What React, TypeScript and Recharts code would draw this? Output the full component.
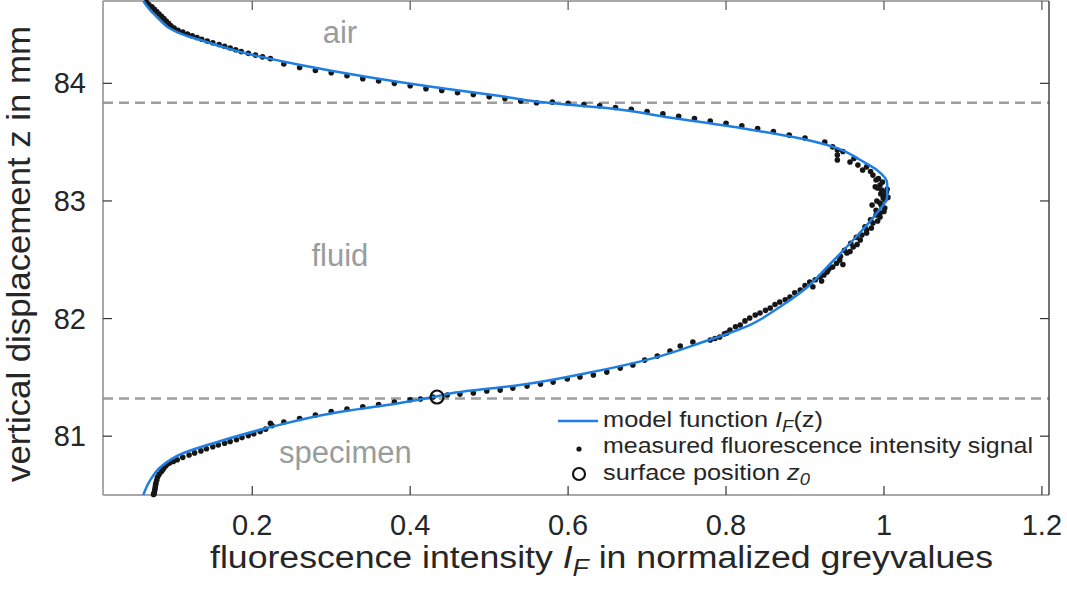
import {
  ScatterChart,
  Scatter,
  XAxis,
  YAxis,
  ReferenceLine,
  ReferenceDot,
  Legend,
} from "recharts";

const FONT = "'Liberation Sans', Arial, Helvetica, sans-serif";
const BLUE = "#1e7fe3";
const GREY = "#9b9f9f";
const TEXT = "#262626";

const xTicks = [0.2, 0.4, 0.6, 0.8, 1, 1.2];
const zTicks = [81, 82, 83, 84];

// [intensity, z] of the fitted model function, top to bottom
const modelCurve: [number, number][] = [
  [0.062, 84.7], [0.0705, 84.624], [0.0793, 84.564], [0.0869, 84.513], [0.0958, 84.466],
  [0.1085, 84.424], [0.121, 84.394], [0.134, 84.368], [0.185, 84.266], [0.261, 84.156],
  [0.346, 84.054], [0.429, 83.969], [0.514, 83.892], [0.565, 83.841], [0.649, 83.79],
  [0.733, 83.705], [0.818, 83.62], [0.903, 83.518], [0.944, 83.441],
  [0.97, 83.348], [0.991, 83.263], [1.004, 83.152], [1.004, 83.033],
  [0.991, 82.897], [0.961, 82.668], [0.928, 82.438], [0.903, 82.268],
  [0.868, 82.098], [0.83, 81.945], [0.767, 81.792], [0.708, 81.664],
  [0.624, 81.537], [0.539, 81.435], [0.454, 81.367], [0.429, 81.333],
  [0.387, 81.282], [0.303, 81.197], [0.219, 81.07], [0.156, 80.951],
  [0.113, 80.857], [0.084, 80.738], [0.071, 80.628], [0.062, 80.5],
];

// [intensity, z] of the measured signal
const measured: [number, number][] = [
  [0.066, 84.69], [0.073, 84.65], [0.079, 84.61], [0.085, 84.57], [0.091, 84.53],
  [0.097, 84.49], [0.106, 84.45], [0.118, 84.42], [0.13, 84.39], [0.143, 84.36],
  [0.158, 84.33], [0.172, 84.3], [0.186, 84.27], [0.204, 84.24], [0.223, 84.21],
  [0.069, 84.67], [0.076, 84.63], [0.082, 84.59], [0.088, 84.55], [0.094, 84.51],
  [0.101, 84.47], [0.112, 84.435], [0.124, 84.405], [0.136, 84.375], [0.15, 84.345],
  [0.165, 84.315], [0.179, 84.285], [0.195, 84.255], [0.213, 84.225],
  [0.24, 84.165], [0.26, 84.135], [0.28, 84.11], [0.3, 84.09], [0.32, 84.065],
  [0.34, 84.04], [0.36, 84.02], [0.38, 84.0], [0.4, 83.98], [0.42, 83.955],
  [0.44, 83.94], [0.46, 83.92], [0.48, 83.905], [0.5, 83.885], [0.52, 83.87],
  [0.54, 83.85], [0.56, 83.835], [0.58, 83.84], [0.6, 83.83], [0.62, 83.82],
  [0.64, 83.81], [0.66, 83.795], [0.68, 83.78], [0.7, 83.76], [0.72, 83.74],
  [0.74, 83.72], [0.76, 83.7], [0.78, 83.68], [0.8, 83.66], [0.82, 83.64],
  [0.84, 83.615], [0.86, 83.59], [0.88, 83.56], [0.9, 83.535], [0.925, 83.5],
  [0.935, 83.46], [0.948, 83.42], [0.962, 83.36], [0.978, 83.29], [0.983, 83.25],
  [0.941, 83.433], [0.941, 83.39], [0.941, 83.348], [0.957, 83.331], [0.967, 83.305],
  [0.973, 83.263], [0.986, 83.22], [0.99, 83.178], [0.995, 83.135], [0.992, 83.11],
  [0.993, 83.19], [0.998, 83.16], [0.989, 83.12], [1.004, 83.1], [0.996, 83.06],
  [0.997, 83.093], [1.003, 83.076], [1.0, 83.05], [0.999, 83.025], [1.001, 83.008],
  [1.005, 83.03], [0.991, 83.0], [0.997, 82.96], [0.99, 82.92], [1.0, 82.91],
  [0.995, 82.982], [0.985, 82.965], [1.001, 82.94], [0.995, 82.897], [0.995, 82.863],
  [0.99, 82.88], [0.983, 82.84], [0.992, 82.83], [0.976, 82.78], [0.984, 82.77],
  [0.986, 82.812], [0.978, 82.753], [0.978, 82.727], [0.97, 82.668], [0.961, 82.608],
  [0.972, 82.71], [0.965, 82.69], [0.958, 82.64], [0.966, 82.63], [0.95, 82.58],
  [0.957, 82.57], [0.945, 82.53], [0.94, 82.47], [0.948, 82.46], [0.93, 82.42],
  [0.953, 82.557], [0.944, 82.498], [0.935, 82.438], [0.928, 82.396], [0.919, 82.353],
  [0.924, 82.37], [0.913, 82.33], [0.921, 82.32], [0.9, 82.28], [0.91, 82.27],
  [0.906, 82.311], [0.894, 82.243], [0.881, 82.183], [0.868, 82.141], [0.856, 82.09],
  [0.887, 82.22], [0.875, 82.16], [0.862, 82.12], [0.85, 82.07], [0.837, 82.03],
  [0.843, 82.047], [0.83, 82.005], [0.818, 81.945], [0.805, 81.903], [0.801, 81.877],
  [0.824, 81.98], [0.812, 81.93], [0.798, 81.87], [0.786, 81.83],
  [0.792, 81.843], [0.78, 81.818], [0.758, 81.8], [0.742, 81.766], [0.729, 81.724],
  [0.713, 81.681], [0.697, 81.647], [0.682, 81.605], [0.666, 81.579], [0.649, 81.545],
  [0.632, 81.52], [0.615, 81.503], [0.599, 81.486], [0.581, 81.46], [0.565, 81.443],
  [0.548, 81.426], [0.53, 81.409], [0.514, 81.392], [0.497, 81.384], [0.48, 81.367],
  [0.463, 81.358], [0.447, 81.35], [0.429, 81.333], [0.413, 81.316], [0.4, 81.31],
  [0.38, 81.29], [0.36, 81.27], [0.34, 81.25], [0.32, 81.23], [0.3, 81.21],
  [0.28, 81.18], [0.26, 81.15], [0.24, 81.12], [0.223, 81.11], [0.225, 81.09],
  [0.21, 81.04], [0.195, 81.005], [0.18, 80.97], [0.165, 80.94], [0.15, 80.91],
  [0.135, 80.875], [0.12, 80.84], [0.105, 80.8], [0.095, 80.77], [0.088, 80.73],
  [0.085, 80.7], [0.08, 80.65], [0.078, 80.6], [0.077, 80.56], [0.076, 80.52],
  [0.075, 80.505], [0.0755, 80.51], [0.0765, 80.54], [0.0775, 80.58], [0.079, 80.625],
  [0.082, 80.675], [0.0865, 80.715], [0.091, 80.75], [0.1, 80.785], [0.112, 80.82],
  [0.127, 80.858], [0.142, 80.893], [0.157, 80.925], [0.172, 80.955], [0.187, 80.988],
  [0.202, 81.02], [0.217, 81.06],
];

const surfacePosition: [number, number][] = [[0.434, 81.333]];
const boundaryZ = [83.835, 81.32];
const regionNames = ["air", "fluid", "specimen"];
const regionI = [0.311, 0.311, 0.318];
const regionZ = [84.436, 82.54, 80.865];

const toRows = (pts: [number, number][]) => pts.map(([i, z]) => ({ i, z }));

function BottomTick({ x, y, payload }: any) {
  return (
    <g>
      <line x1={x} y1={y} x2={x} y2={y - 9} stroke="#333" strokeWidth={1.2} />
      <text x={x} y={y + 40} textAnchor="middle" fontSize={29} fill={TEXT} fontFamily={FONT}>
        {payload.value}
      </text>
    </g>
  );
}

function LeftTick({ x, y, payload }: any) {
  return (
    <g>
      <line x1={x} y1={y} x2={x + 9} y2={y} stroke="#333" strokeWidth={1.2} />
      <text x={x - 17} y={y + 10} textAnchor="end" fontSize={29} fill={TEXT} fontFamily={FONT}>
        {payload.value}
      </text>
    </g>
  );
}

// mirrored axes: the tick anchor sits on the axis line when tickSize/tickMargin are 0
function TopTick({ x, y }: any) {
  return <line x1={x} y1={y} x2={x} y2={y + 9} stroke="#555" strokeWidth={1.2} />;
}

function RightTick({ x, y }: any) {
  return <line x1={x} y1={y} x2={x - 9} y2={y} stroke="#333" strokeWidth={1.2} />;
}

function XTitle() {
  return (
    <text x={210} y={568} fontSize={31} fill={TEXT} fontFamily={FONT} textLength={783} lengthAdjust="spacingAndGlyphs">
      fluorescence intensity <tspan fontStyle="italic">I</tspan>
      <tspan fontStyle="italic" fontSize={23} dy={8}>F</tspan>
      <tspan dy={-8}> in normalized greyvalues</tspan>
    </text>
  );
}

function YTitle() {
  return (
    <text
      x={30}
      y={254}
      transform="rotate(-90, 30, 254)"
      textAnchor="middle"
      fontSize={33}
      fill={TEXT}
      fontFamily={FONT}
      textLength={456}
      lengthAdjust="spacingAndGlyphs"
    >
      vertical displacement z in mm
    </text>
  );
}

function LegendBox() {
  const t = { fontSize: 22, fill: TEXT, fontFamily: FONT, lengthAdjust: "spacingAndGlyphs" as const };
  return (
    <svg width={500} height={95} style={{ overflow: "visible" }}>
      <line x1={8} y1={17} x2={48} y2={17} stroke={BLUE} strokeWidth={2.5} />
      <text x={53} y={23} {...t} textLength={220}>
        model function <tspan fontStyle="italic">I</tspan>
        <tspan fontStyle="italic" fontSize={16} dy={5}>F</tspan>
        <tspan dy={-5}>(z)</tspan>
      </text>
      <circle cx={29} cy={45} r={2.6} fill="#161616" />
      <text x={53} y={49} {...t} textLength={430}>
        measured fluorescence intensity signal
      </text>
      <circle cx={29} cy={70} r={6} fill="none" stroke="#111" strokeWidth={2.2} />
      <text x={53} y={76} {...t} textLength={207}>
        surface position <tspan fontStyle="italic">z</tspan>
        <tspan fontStyle="italic" fontSize={16} dy={5}>0</tspan>
      </text>
    </svg>
  );
}

export default function App() {
  return (
    <div style={{ position: "absolute", left: 0, top: 0, width: 1067, height: 604, background: "#fff" }}>
      <ScatterChart width={1067} height={604} margin={{ top: 1, right: 18, bottom: 49, left: 23 }}>
        <XAxis
          dataKey="i"
          type="number"
          domain={[0.011, 1.209]}
          ticks={xTicks}
          height={60}
          tickSize={0}
          tickMargin={0}
          tickLine={false}
          axisLine={{ stroke: "#8c8c8c", strokeWidth: 1.5 }}
          tick={BottomTick}
          interval={0}
          label={XTitle}
        />
        <XAxis
          xAxisId="top"
          dataKey="i"
          orientation="top"
          mirror
          type="number"
          domain={[0.011, 1.209]}
          ticks={xTicks}
          tickSize={0}
          tickMargin={0}
          tickLine={false}
          axisLine={{ stroke: "#8c8c8c", strokeWidth: 1.5 }}
          tick={TopTick}
          interval={0}
        />
        <YAxis
          dataKey="z"
          type="number"
          domain={[80.5, 84.7]}
          ticks={zTicks}
          width={80}
          tickSize={0}
          tickMargin={0}
          tickLine={false}
          axisLine={{ stroke: "#8c8c8c", strokeWidth: 1.5 }}
          tick={LeftTick}
          interval={0}
          label={YTitle}
        />
        <YAxis
          yAxisId="right"
          dataKey="z"
          orientation="right"
          mirror
          type="number"
          domain={[80.5, 84.7]}
          ticks={zTicks}
          tickSize={0}
          tickMargin={0}
          tickLine={false}
          axisLine={{ stroke: "#444", strokeWidth: 1.5 }}
          tick={RightTick}
          interval={0}
        />
        {boundaryZ.map((z) => (
          <ReferenceLine key={z} y={z} stroke={GREY} strokeWidth={2.5} strokeDasharray="10 6" />
        ))}
        <Scatter
          name="measured fluorescence intensity signal"
          data={toRows(measured)}
          isAnimationActive={false}
          shape={(p: any) => <circle cx={p.cx} cy={p.cy} r={2.8} fill="#161616" />}
        />
        <Scatter
          name="model function"
          data={toRows(modelCurve)}
          isAnimationActive={false}
          line={{ stroke: BLUE, strokeWidth: 2.5 }}
          lineJointType="monotoneY"
          shape={() => <g />}
        />
        <Scatter
          name="surface position"
          data={toRows(surfacePosition)}
          isAnimationActive={false}
          shape={(p: any) => <circle cx={p.cx} cy={p.cy} r={6.5} fill="none" stroke="#111" strokeWidth={2.2} />}
        />
        {/* carries the top/right frame axes */}
        <Scatter
          xAxisId="top"
          yAxisId="right"
          data={toRows(surfacePosition)}
          isAnimationActive={false}
          legendType="none"
          shape={() => <g />}
        />
        {regionNames.map((name, k) => (
          <ReferenceDot
            key={name}
            x={regionI[k]}
            y={regionZ[k]}
            r={0}
            stroke="none"
            label={{ value: name, position: "center", fill: "#979d9d", fontSize: 31, fontFamily: FONT }}
          />
        ))}
        <Legend
          layout="vertical"
          align="center"
          verticalAlign="middle"
          content={LegendBox}
          wrapperStyle={{ left: 550, top: 404, width: 500, height: 95 }}
        />
      </ScatterChart>
    </div>
  );
}
